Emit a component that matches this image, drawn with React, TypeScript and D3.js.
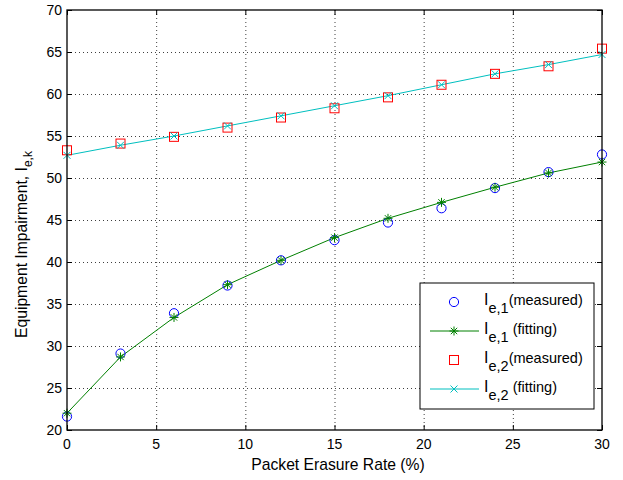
import * as d3 from "d3";
import React from "react";

// packet erasure rate (%)
const rates = [0, 3, 6, 9, 12, 15, 18, 21, 24, 27, 30];
const ie1Measured = [21.6, 29.1, 33.9, 37.2, 40.2, 42.6, 44.7, 46.4, 48.8, 50.7, 52.8];
const ie1Fitting = [22.0, 28.7, 33.4, 37.3, 40.2, 42.9, 45.2, 47.1, 48.9, 50.6, 51.9];
const ie2Measured = [53.3, 54.1, 54.9, 56.0, 57.2, 58.3, 59.6, 61.1, 62.4, 63.3, 65.4];
const ie2Fitting = [52.7, 53.9, 55.0, 56.2, 57.4, 58.6, 59.8, 61.1, 62.4, 63.5, 64.7];
const xTicks = [0, 5, 10, 15, 20, 25, 30];
const yTicks = [20, 25, 30, 35, 40, 45, 50, 55, 60, 65, 70];

const BLUE = "#0000ff";
const GREEN = "#008000";
const RED = "#ff0000";
const CYAN = "#00bfbf";

const Star = ({ x, y, c }: { x: number; y: number; c: string }) => {
  const s = 4.5;
  const d = 3.2;
  return (
    <g stroke={c} strokeWidth={1}>
      <line x1={x - s} y1={y} x2={x + s} y2={y} />
      <line x1={x} y1={y - s} x2={x} y2={y + s} />
      <line x1={x - d} y1={y - d} x2={x + d} y2={y + d} />
      <line x1={x - d} y1={y + d} x2={x + d} y2={y - d} />
    </g>
  );
};

const Cross = ({ x, y, c }: { x: number; y: number; c: string }) => {
  const d = 3.5;
  return (
    <g stroke={c} strokeWidth={1}>
      <line x1={x - d} y1={y - d} x2={x + d} y2={y + d} />
      <line x1={x - d} y1={y + d} x2={x + d} y2={y - d} />
    </g>
  );
};

const Circle = ({ x, y, c }: { x: number; y: number; c: string }) => (
  <circle cx={x} cy={y} r={4.6} fill="none" stroke={c} strokeWidth={1} />
);

const Square = ({ x, y, c }: { x: number; y: number; c: string }) => (
  <rect x={x - 4.5} y={y - 4.5} width={9} height={9} fill="none" stroke={c} strokeWidth={1} />
);

const App = () => {
  const width = 623;
  const height = 480;
  const left = 67;
  const right = 602;
  const top = 10;
  const bottom = 430;

  const x = d3.scaleLinear().domain([0, 30]).range([left, right]);
  const y = d3.scaleLinear().domain([20, 70]).range([bottom, top]);

  const line = d3
    .line<number>()
    .x((_, i) => x(rates[i]))
    .y((d) => y(d));

  const font = "'Liberation Sans', Arial, sans-serif";
  const tick = 5;

  // legend
  const lx = 420;
  const ly = 283;
  const lw = 174;
  const lh = 126;
  const rows = [302, 331, 360, 389];

  return (
    <svg
      width={width}
      height={height}
      style={{ position: "absolute", left: 0, top: 0 }}
      fontFamily={font}
    >
      <rect width={width} height={height} fill="#fff" />

      {/* grid */}
      <g stroke="#000" strokeWidth={1} strokeDasharray="1,3" opacity={0.75}>
        {xTicks.slice(1, -1).map((t) => (
          <line key={"gx" + t} x1={x(t) + 0.5} x2={x(t) + 0.5} y1={top} y2={bottom} />
        ))}
        {yTicks.slice(1, -1).map((t) => (
          <line key={"gy" + t} x1={left} x2={right} y1={y(t) + 0.5} y2={y(t) + 0.5} />
        ))}
      </g>

      {/* ticks */}
      <g stroke="#000" strokeWidth={1}>
        {xTicks.map((t) => (
          <g key={"tx" + t}>
            <line x1={x(t) + 0.5} x2={x(t) + 0.5} y1={bottom} y2={bottom - tick} />
            <line x1={x(t) + 0.5} x2={x(t) + 0.5} y1={top} y2={top + tick} />
          </g>
        ))}
        {yTicks.map((t) => (
          <g key={"ty" + t}>
            <line x1={left} x2={left + tick} y1={y(t) + 0.5} y2={y(t) + 0.5} />
            <line x1={right} x2={right - tick} y1={y(t) + 0.5} y2={y(t) + 0.5} />
          </g>
        ))}
      </g>

      {/* series */}
      <path d={line(ie1Fitting) ?? ""} fill="none" stroke={GREEN} strokeWidth={1} />
      <path d={line(ie2Fitting) ?? ""} fill="none" stroke={CYAN} strokeWidth={1} />
      {ie1Measured.map((v, i) => (
        <Circle key={"m1" + i} x={x(rates[i])} y={y(v)} c={BLUE} />
      ))}
      {ie1Fitting.map((v, i) => (
        <Star key={"f1" + i} x={x(rates[i])} y={y(v)} c={GREEN} />
      ))}
      {ie2Measured.map((v, i) => (
        <Square key={"m2" + i} x={x(rates[i])} y={y(v)} c={RED} />
      ))}
      {ie2Fitting.map((v, i) => (
        <Cross key={"f2" + i} x={x(rates[i])} y={y(v)} c={CYAN} />
      ))}

      {/* axes box */}
      <rect
        x={left}
        y={top}
        width={right - left}
        height={bottom - top}
        fill="none"
        stroke="#000"
        strokeWidth={1.3}
      />

      {/* tick labels */}
      <g fontSize={14} fill="#000">
        {xTicks.map((t) => (
          <text key={"lx" + t} x={x(t)} y={bottom + 19} textAnchor="middle">
            {t}
          </text>
        ))}
        {yTicks.map((t) => (
          <text key={"ly" + t} x={left - 5} y={y(t) + 5} textAnchor="end">
            {t}
          </text>
        ))}
      </g>

      {/* axis labels */}
      <text x={338} y={470} textAnchor="middle" fontSize={15.7}>
        Packet Erasure Rate (%)
      </text>
      <text transform="translate(27,338) rotate(-90)" textAnchor="start" fontSize={15.7}>
        Equipment Impairment, I
        <tspan fontSize={12} dy={5}>e,k</tspan>
      </text>

      {/* legend */}
      <rect x={lx} y={ly} width={lw} height={lh} fill="#fff" stroke="#000" strokeWidth={1} />
      <Circle x={454} y={rows[0]} c={BLUE} />
      <line x1={430} x2={479} y1={rows[1]} y2={rows[1]} stroke={GREEN} />
      <Star x={454} y={rows[1]} c={GREEN} />
      <Square x={454} y={rows[2]} c={RED} />
      <line x1={430} x2={479} y1={rows[3]} y2={rows[3]} stroke={CYAN} />
      <Cross x={454} y={rows[3]} c={CYAN} />
      {[
        ["e,1", "(measured)"],
        ["e,1", " (fitting)"],
        ["e,2", "(measured)"],
        ["e,2", " (fitting)"],
      ].map(([sub, rest], i) => (
        <text key={"lg" + i} x={484} y={rows[i] + 3} fontSize={14.5} xmlSpace="preserve">
          <tspan fontSize={16}>I</tspan>
          <tspan fontSize={14.5} dy={8}>{sub}</tspan>
          <tspan dy={-8}>{rest}</tspan>
        </text>
      ))}
    </svg>
  );
};

export default App;
